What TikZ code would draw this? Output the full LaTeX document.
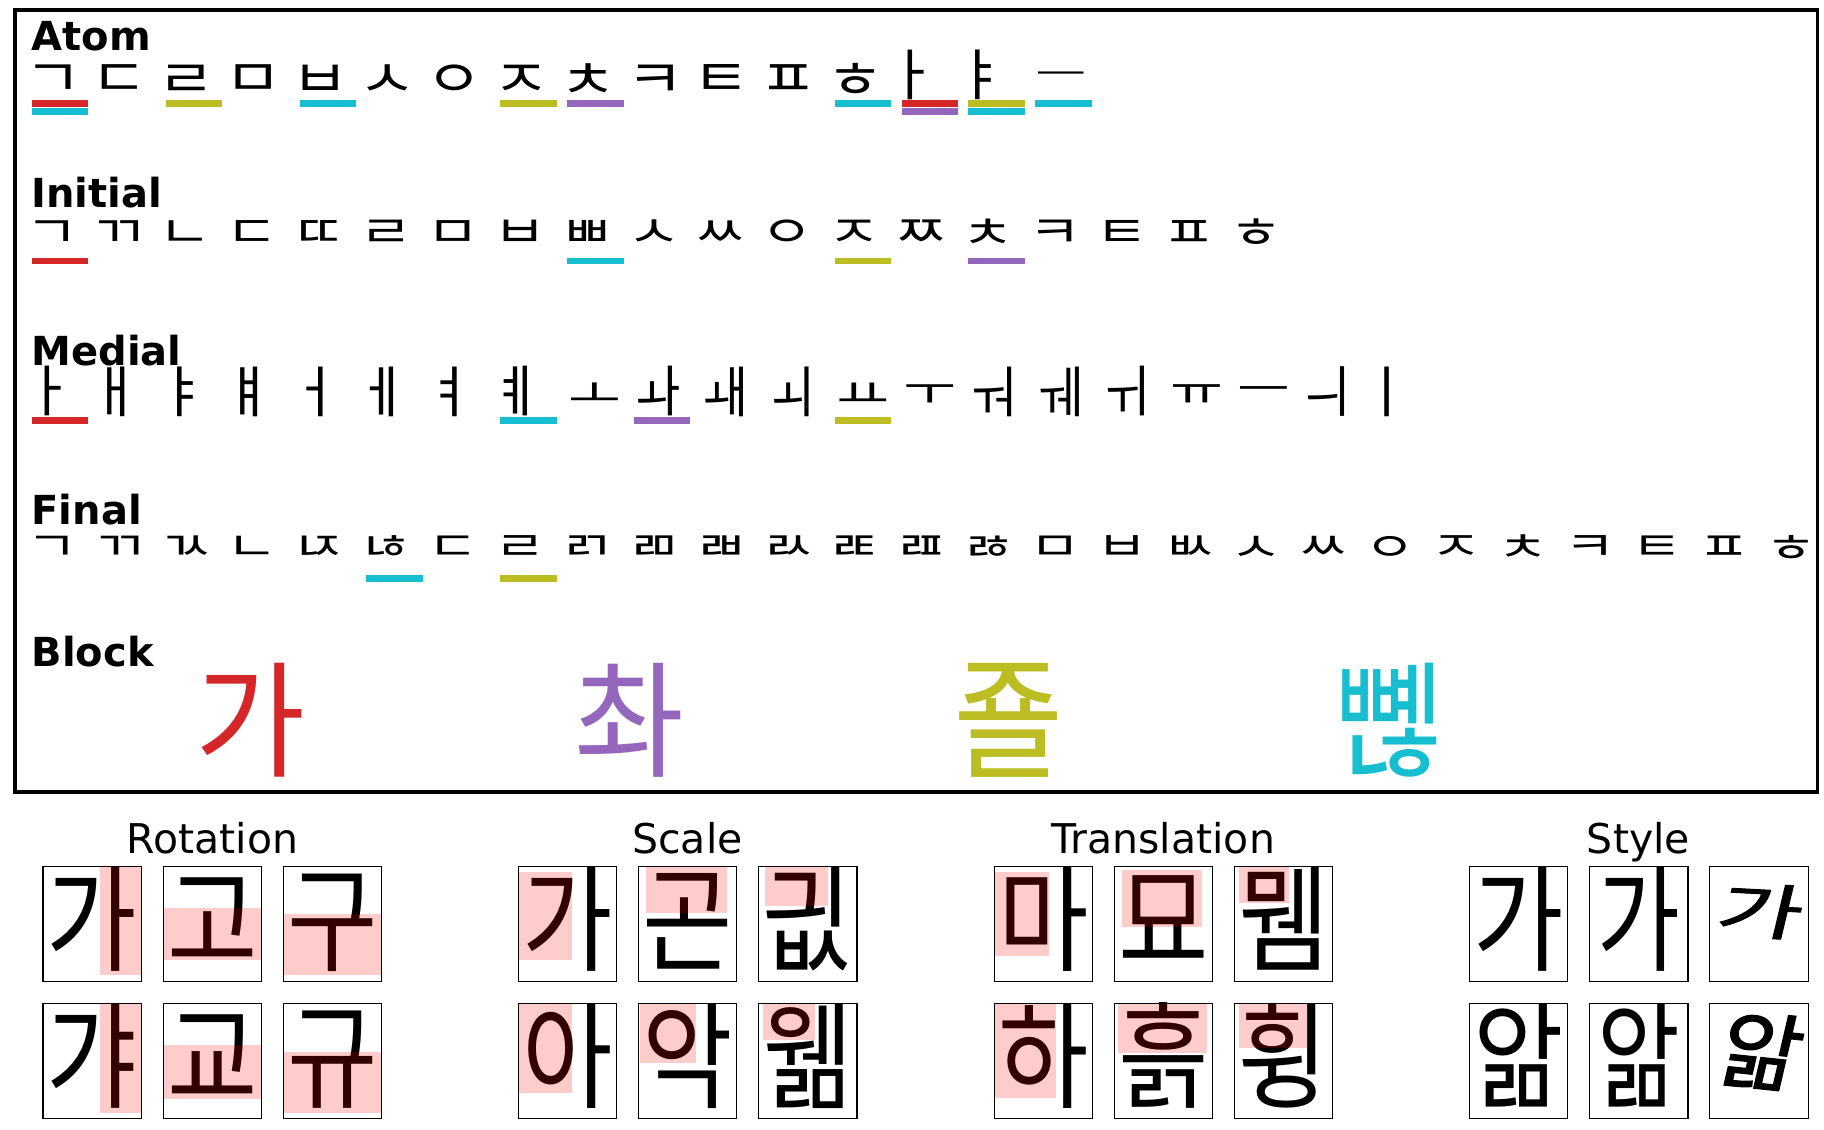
\documentclass[tikz,border=0pt]{standalone}
\usepackage{fontspec}
\setmainfont{DejaVu Sans}
\newfontfamily\kr{Noto Sans CJK KR}
\newfontfamily\krs[FakeSlant=0.12,FakeBold=1.5]{Noto Sans CJK KR}
\definecolor{tred}{HTML}{D62728}
\definecolor{tpurple}{HTML}{9467BD}
\definecolor{tolive}{HTML}{BCBD22}
\definecolor{tcyan}{HTML}{17BECF}
\newcommand\jm[4]{\scalebox{#2}[#3]{\fontsize{#1}{#1}\selectfont\kr #4}}
\newcommand\kg[1]{\jm{100}{0.983}{1.152}{#1}}
\newcommand\ub[3]{\fill[#3] ({27.5+57.5*#1},#2) rectangle ++(48.5,5.8);}
\newcommand\kbox[8]{%
  \node[big] (#1) at ({#2+42.25},{#3+83}) {\kg{#4}};
  \fill[hl] ({#2+84.5*#5},{#3+99*#7}) rectangle ({#2+84.5*#6},{#3+99*#8});
  \draw[cell] (#2,#3) rectangle ++(84.5,99);}
\begin{document}
\begin{tikzpicture}[x=1.16327pt,y=-1.16327pt,
  lbl/.style={anchor=base west,inner sep=0pt,font=\fontsize{40}{40}\selectfont\bfseries},
  jamo/.style={inner sep=0pt,anchor=center},
  ttl/.style={anchor=base,inner sep=0pt,font=\fontsize{41}{41}\selectfont},
  cell/.style={draw=black,line width=1.1pt},
  hl/.style={fill=red,fill opacity=0.2},
  big/.style={inner sep=0pt,anchor=base}]
\fill[white] (0,0) rectangle (1568,971);
\useasboundingbox (0,0) rectangle (1568,971);

\begin{scope}
\clip (13,8.5) rectangle (1562.5,681);
% labels
\node[lbl] (lAtom) at (27,43) {Atom};
\node[lbl] (lInit) at (27,178) {Initial};
\node[lbl] (lMed) at (27,314) {Medial};
\node[lbl] (lFin) at (27,451) {Final};
\node[lbl] (lBlk) at (27,573) {Block};

% atom row
\foreach \c [count=\i from 0] in {ㄱ,ㄷ,ㄹ,ㅁ,ㅂ,ㅅ,ㅇ,ㅈ,ㅊ,ㅋ,ㅌ,ㅍ,ㅎ}
  \node[jamo] (at\i) at ({45.5+57.5*\i},69.5) {\jm{40}{1.57}{1.3}{\c}};
\node[jamo] (at13) at (784,64.5) {\jm{50}{1.1}{1.12}{ㅏ}};
\node[jamo] (at14) at (843,64.5) {\jm{50}{1.1}{1.12}{ㅑ}};
\node[jamo] (at15) at (912,67.5) {\jm{40}{1.4}{0.8}{ㅡ}};
\ub{0}{86}{tred}\ub{0}{93.1}{tcyan}
\ub{2}{86}{tolive}
\ub{4}{86}{tcyan}
\ub{7}{86}{tolive}
\ub{8}{86}{tpurple}
\ub{12}{86}{tcyan}
\ub{13}{86}{tred}\ub{13}{93.1}{tpurple}
\ub{14}{86}{tolive}\ub{14}{93.1}{tcyan}
\ub{15}{86}{tcyan}

% initial row
\foreach \c [count=\i from 0] in {ㄱ,ㄲ,ㄴ,ㄷ,ㄸ,ㄹ,ㅁ,ㅂ,ㅃ,ㅅ,ㅆ,ㅇ,ㅈ,ㅉ,ㅊ,ㅋ,ㅌ,ㅍ,ㅎ}
  \node[jamo] (in\i) at ({44.5+57.5*\i},201) {\jm{40}{1.45}{1.1}{\c}};
\ub{0}{221.5}{tred}
\ub{8}{221.5}{tcyan}
\ub{12}{221.5}{tolive}
\ub{14}{221.5}{tpurple}

% medial row
\foreach \c/\i in {ㅏ/0,ㅐ/1,ㅑ/2,ㅒ/3,ㅓ/4,ㅔ/5,ㅕ/6,ㅖ/7,ㅣ/20}
  \node[jamo] (md\i) at ({41.75+57.5*\i},336.5) {\jm{50}{1.1}{1.12}{\c}};
\foreach \c/\i in {ㅗ/8,ㅛ/12,ㅜ/13,ㅠ/17,ㅡ/18}
  \node[jamo] (md\i) at ({51.75+57.5*\i},340) {\jm{50}{1.15}{0.8}{\c}};
\foreach \c/\i in {ㅘ/9,ㅙ/10,ㅚ/11,ㅝ/14,ㅞ/15,ㅟ/16,ㅢ/19}
  \node[jamo] (md\i) at ({48.75+57.5*\i},336.5) {\jm{50}{1.0}{1.12}{\c}};
\ub{0}{358.8}{tred}
\ub{7}{358.8}{tcyan}
\ub{9}{358.8}{tpurple}
\ub{12}{358.8}{tolive}

% final row
\foreach \c [count=\i from 0] in {ㄱ,ㄲ,ㄳ,ㄴ,ㄵ,ㄶ,ㄷ,ㄹ,ㄺ,ㄻ,ㄼ,ㄽ,ㄾ,ㄿ,ㅀ,ㅁ,ㅂ,ㅄ,ㅅ,ㅆ,ㅇ,ㅈ,ㅊ,ㅋ,ㅌ,ㅍ,ㅎ}
  \node[jamo] (fn\i) at ({44.75+57.5*\i},471.5) {\jm{40}{1.4}{1.0}{\c}};
\ub{5}{494.3}{tcyan}
\ub{7}{494.3}{tolive}

% blocks
\node[jamo,text=tred] (bk1) at (215,619) {\resizebox*{110pt}{114pt}{\kr 가}};
\node[jamo,text=tpurple] (bk2) at (541,619) {\resizebox*{110pt}{114pt}{\kr 촤}};
\node[jamo,text=tolive] (bk3) at (868,619) {\resizebox*{110pt}{114pt}{\kr\char"C8E8}};
\node[jamo,text=tcyan] (bk4) at (1195,619) {\resizebox*{110pt}{114pt}{\kr\char"BF2A}};
\end{scope}
\draw[line width=3.5pt] (13,8.5) rectangle (1562.5,681);

% titles
\node[ttl] (tRot) at (182.5,734) {Rotation};
\node[ttl] (tSca) at (591,734) {Scale};
\node[ttl] (tTra) at (1000,734) {Translation};
\node[ttl] (tSty) at (1408.5,734) {Style};

% rotation
\kbox{r11}{37}{744.5}{가}{0.58}{1}{0}{0.95}
\kbox{r12}{140.3}{744.5}{고}{0}{1}{0.36}{0.82}
\kbox{r13}{243.6}{744.5}{구}{0}{1}{0.42}{0.95}
\kbox{r21}{37}{862.5}{갸}{0.58}{1}{0}{0.95}
\kbox{r22}{140.3}{862.5}{교}{0}{1}{0.36}{0.83}
\kbox{r23}{243.6}{862.5}{규}{0}{1}{0.42}{0.95}
% scale
\kbox{s11}{445.6}{744.5}{가}{0}{0.55}{0.05}{0.82}
\kbox{s12}{548.9}{744.5}{곤}{0.08}{0.9}{0.006}{0.41}
\kbox{s13}{652.2}{744.5}{\char"AE26}{0.06}{0.71}{0.006}{0.35}
\kbox{s21}{445.6}{862.5}{아}{0}{0.55}{0.006}{0.78}
\kbox{s22}{548.9}{862.5}{악}{0.01}{0.58}{0.006}{0.52}
\kbox{s23}{652.2}{862.5}{\char"C6F2}{0.04}{0.57}{0.006}{0.32}
% translation
\kbox{t11}{854.7}{744.5}{마}{0}{0.56}{0.05}{0.78}
\kbox{t12}{958.0}{744.5}{묘}{0.08}{0.89}{0.03}{0.53}
\kbox{t13}{1061.3}{744.5}{\char"BB7C}{0.04}{0.55}{0}{0.32}
\kbox{t21}{854.7}{862.5}{하}{0}{0.63}{0.006}{0.82}
\kbox{t22}{958.0}{862.5}{\char"D759}{0.04}{0.94}{0.006}{0.43}
\kbox{t23}{1061.3}{862.5}{\char"D72D}{0.04}{0.75}{0.006}{0.39}
% style
\kbox{y11}{1263.3}{744.5}{가}{0}{0}{0}{0}
\kbox{y21}{1263.3}{862.5}{앎}{0}{0}{0}{0}
\node[big] (y12) at (1408.85,827.5) {\jm{100}{0.9}{1.152}{가}};
\draw[cell] (1366.6,744.5) rectangle ++(84.5,99);
\node[big] (y22) at (1408.85,945.5) {\jm{100}{0.9}{1.152}{앎}};
\draw[cell] (1366.6,862.5) rectangle ++(84.5,99);
\node[inner sep=0pt,rotate=-3] (y13) at (1510,783) {\scalebox{0.92}[0.6]{\fontsize{100}{100}\selectfont\krs 가}};
\draw[cell] (1469.9,744.5) rectangle ++(84.5,99);
\node[inner sep=0pt,rotate=-6] (y23) at (1511,903) {\scalebox{0.88}[0.85]{\fontsize{100}{100}\selectfont\krs 앎}};
\draw[cell] (1469.9,862.5) rectangle ++(84.5,99);
\end{tikzpicture}
\end{document}
